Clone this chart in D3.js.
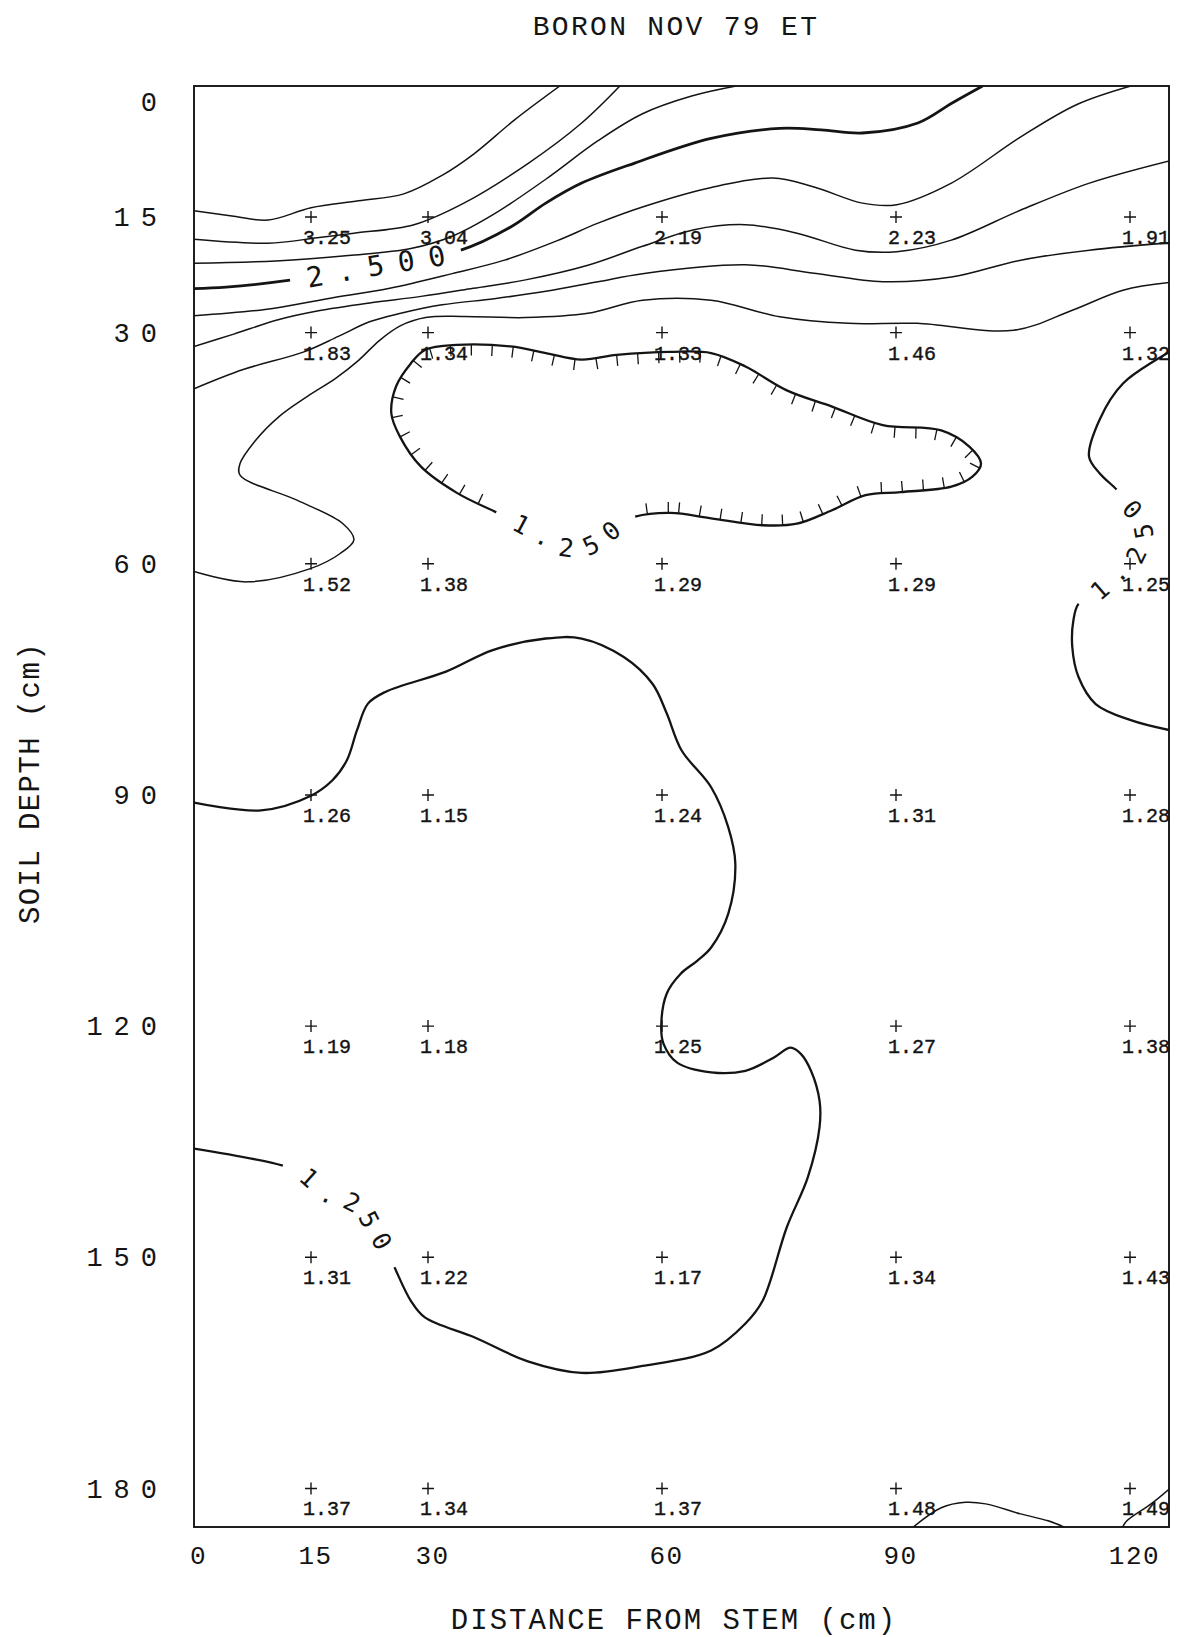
<!DOCTYPE html>
<html>
<head>
<meta charset="utf-8">
<title>BORON NOV 79 ET</title>
<script src="https://cdn.jsdelivr.net/npm/d3@7"></script>
<style>
  html, body { margin: 0; padding: 0; background: #fff; }
  svg { display: block; }
</style>
</head>
<body>
<svg id="chart" width="1181" height="1637"></svg>
<script>
// Sampling positions (cm) and measured boron values, one row per depth
const distances = [15, 30, 60, 90, 120];
const depths = [15, 30, 60, 90, 120, 150, 180];
const boronByDepth = [
  [3.25, 3.04, 2.19, 2.23, 1.91],
  [1.83, 1.34, 1.33, 1.46, 1.32],
  [1.52, 1.38, 1.29, 1.29, 1.25],
  [1.26, 1.15, 1.24, 1.31, 1.28],
  [1.19, 1.18, 1.25, 1.27, 1.38],
  [1.31, 1.22, 1.17, 1.34, 1.43],
  [1.37, 1.34, 1.37, 1.48, 1.49]
];

// Axis ticks and plotted extent (distance from stem, soil depth)
const xTicks = [0, 15, 30, 60, 90, 120];
const yTicks = [0, 15, 30, 60, 90, 120, 150, 180];
const distanceExtent = [0, 125];
const depthExtent = [-2, 185];

// Iso-lines, vertices as [distance cm, depth cm]
const iso325 = [[0,14.2],[5.1,14.9],[9.5,15.4],[15.0,13.8],[21.1,12.9],[26.9,12.0],[31.8,9.6],[35.9,6.8],[41.1,2.4],[46.9,-2]];
const iso300 = [[0,17.9],[9.5,18.4],[15.8,17.7],[20.5,17.1],[28.2,16.0],[34.6,13.2],[42.9,8.0],[49.7,2.8],[54.6,-2]];
const iso275 = [[0,21.0],[10.5,20.7],[19.8,20.0],[27.8,19.1],[33.1,17.5],[38.5,14.6],[45.1,10.1],[51.8,5.1],[57.5,1.6],[63.8,-0.7],[69.5,-2]];
const iso250 = [[0,24.3],[4.1,24.1],[12.3,23.2],[23.2,21.3],[34.2,19.3],[40.6,16.3],[45.1,13.2],[49.7,10.6],[56.5,8.0],[66.3,4.8],[75.1,3.5],[80.4,3.7],[85.7,4.1],[92.8,2.8],[97.2,0.2],[101.1,-2]];
const iso225 = [[0,27.8],[9.1,27.0],[17.1,25.6],[25.1,24.25],[33.1,22.35],[39.8,20.6],[46.5,18.1],[51.8,15.8],[57.5,13.7],[66.2,11.2],[74.2,9.95],[79.5,11.1],[85.7,13.2],[90.1,13.4],[97.1,10.6],[106.0,4.6],[113.2,0.4],[120.1,-2]];
const iso200 = [[0,31.8],[5.1,30.2],[10.9,28.3],[15.8,27.2],[22.5,26.15],[29.1,25.3],[35.8,24.25],[42.5,23.16],[50.5,21.26],[57.5,18.8],[64.1,16.65],[70.7,16.0],[77.3,17.1],[84.8,19.3],[90.1,19.5],[97.1,18.0],[106.0,14.1],[114.8,10.6],[125.1,7.7]];
const iso175 = [[0,37.3],[6.3,34.8],[14.1,32.5],[18.5,30.5],[22.5,28.6],[26.5,27.5],[31.8,26.4],[38.5,25.6],[45.1,24.65],[51.8,23.4],[57.5,22.35],[70.7,21.2],[79.5,22.3],[88.3,23.4],[97.1,22.8],[106.0,20.6],[114.8,19.3],[125.1,18.35]];
const iso150 = [[125.1,23.5],[119.1,24.5],[112.6,27.1],[105.1,29.7],[92.7,28.8],[83.9,28.8],[75.1,27.95],[66.3,25.8],[57.5,25.8],[50.5,27.5],[42.5,28.05],[34.5,27.9],[29.7,28.05],[26.5,29.1],[23.8,31.0],[21.1,33.6],[18.2,35.9],[14.5,38.3],[10.9,40.9],[7.8,44.1],[5.9,47.0],[5.9,48.5],[13.2,51.75],[19.1,54.8],[20.5,56.9],[18.7,58.7],[15.0,60.6],[6.8,62.35],[0,61.0]];
// closed low between 30 and 55 cm depth
const iso125Low = [[56.5,53.9],[61.1,53.4],[66.3,54.1],[72.9,55.0],[77.3,54.8],[81.8,53.05],[86.1,51.1],[90.6,50.7],[97.1,50.0],[99.8,48.7],[100.9,47.0],[99.4,44.8],[95.8,42.7],[88.3,42.0],[81.8,39.6],[76.0,37.5],[70.7,34.4],[66.3,32.65],[61.1,32.5],[54.2,32.9],[49.7,33.5],[45.1,32.65],[40.6,31.8],[33.7,31.6],[29.6,32.25],[27.8,34.0],[25.9,37.0],[25.3,40.5],[26.4,43.5],[29.1,47.4],[33.7,50.8],[38.7,53.3],[41.4,54.6],[45.4,56.7],[48.5,58.0],[51.5,57.3],[54.5,54.9]];
const iso125Mid = [[0,135.9],[11.4,138.1],[14.1,139.2],[17.3,141.8],[21.4,143.5],[23.0,146.1],[24.6,148.9],[25.7,151.3],[27.8,155.65],[29.6,157.8],[36.0,160.4],[42.8,163.5],[49.7,165.0],[57.5,164.1],[66.3,162.1],[70.7,158.6],[72.9,155.65],[76.0,146.1],[78.7,139.6],[80.2,133.1],[80.2,129.7],[79.1,125.8],[77.8,123.6],[76.5,122.8],[74.3,124.1],[70.7,125.8],[66.3,126.0],[61.9,124.7],[60.2,122.3],[59.9,120.1],[60.6,115.8],[62.4,113.2],[64.55,111.5],[66.3,109.8],[68.5,105.4],[69.4,98.9],[68.5,94.2],[66.3,89.0],[62.5,84.2],[60.6,79.4],[58.8,75.6],[55.1,72.1],[49.7,69.7],[45.1,69.7],[38.3,71.2],[32.3,74.0],[24.6,76.6],[22.3,78.15],[20.9,81.6],[19.6,85.5],[17.75,88.1],[15.0,90.1],[8.6,92.0],[0,91.0]];
const iso125Edge = [[125.1,81.6],[120.1,80.3],[115.6,78.2],[113.4,74.7],[112.6,70.8],[112.75,67.3],[113.4,65.2],[116.1,63.4],[118.8,60.8],[121.0,58.4],[121.6,55.0],[119.1,51.5],[118.3,50.4],[116.1,48.25],[114.75,46.1],[116.1,41.3],[119.1,36.6],[125.1,32.5]];
const iso150Bump = [[92.1,185.1],[95.8,182.5],[98.9,181.8],[101.5,182.0],[105.95,183.3],[109.5,184.2],[111.8,185.1]];
const iso150Corner = [[119.0,185.1],[119.6,184.2],[122.7,182.0],[125.1,180.0]];

// level, vertices, and which vertex span carries the level label
const isolines = [
  { level: 3.25, points: iso325 },
  { level: 3.00, points: iso300 },
  { level: 2.75, points: iso275 },
  { level: 2.50, points: iso250, label: [2, 4] },
  { level: 2.25, points: iso225 },
  { level: 2.00, points: iso200 },
  { level: 1.75, points: iso175 },
  { level: 1.50, points: iso150 },
  { level: 1.25, points: iso125Low, closed: true, low: true, label: [31, 0] },
  { level: 1.25, points: iso125Mid, label: [1, 7] },
  { level: 1.25, points: iso125Edge, label: [6, 12] },
  { level: 1.50, points: iso150Bump },
  { level: 1.50, points: iso150Corner }
];

const svg = d3.select('#chart');
const x = d3.scaleLinear().domain(distanceExtent).range([194, 1169]);
const y = d3.scaleLinear().domain(depthExtent).range([86, 1527]);

const mono = '"Liberation Mono", "DejaVu Sans Mono", monospace';
const ink = '#141414';

// title
svg.append('text')
  .attr('x', 676).attr('y', 35)
  .attr('text-anchor', 'middle')
  .style('font-family', mono).style('font-size', '28px').style('letter-spacing', '2.3px')
  .attr('fill', ink)
  .text('BORON NOV 79 ET');

// clip region = plot frame
svg.append('defs').append('clipPath').attr('id', 'plotClip')
  .append('rect')
  .attr('x', x(distanceExtent[0])).attr('y', y(depthExtent[0]))
  .attr('width', x(distanceExtent[1]) - x(distanceExtent[0]))
  .attr('height', y(depthExtent[1]) - y(depthExtent[0]));

const gIso = svg.append('g').attr('clip-path', 'url(#plotClip)');
const gIsoLabels = svg.append('g');

const openLine = d3.line().x(d => x(d[0])).y(d => y(d[1])).curve(d3.curveCatmullRom.alpha(0.5));
const closedLine = d3.line().x(d => x(d[0])).y(d => y(d[1])).curve(d3.curveCatmullRomClosed.alpha(0.5));
const levelFmt = d3.format('.3f');

function strokeFor(level) {
  if (level === 2.5) return 2.8;
  if (level === 1.25) return 2.3;
  return 1.5;
}

isolines.forEach((iso, k) => {
  const id = 'iso' + k;
  const path = gIso.append('path')
    .attr('id', id)
    .attr('d', (iso.closed ? closedLine : openLine)(iso.points))
    .attr('fill', 'none')
    .attr('stroke', ink)
    .attr('stroke-width', strokeFor(iso.level))
    .attr('stroke-linejoin', 'round');

  const node = path.node();
  const total = node.getTotalLength();
  const samples = [];
  for (let l = 0; l <= total; l += 0.5) {
    const p = node.getPointAtLength(l);
    samples.push([l, p.x, p.y]);
  }
  const lengthAt = v => {
    const px = x(v[0]), py = y(v[1]);
    let best = 0, bd = Infinity;
    for (const s of samples) {
      const d = (s[1] - px) ** 2 + (s[2] - py) ** 2;
      if (d < bd) { bd = d; best = s[0]; }
    }
    return best;
  };

  let gapA = null, gapB = null;
  if (iso.label) {
    gapA = lengthAt(iso.points[iso.label[0]]);
    gapB = lengthAt(iso.points[iso.label[1]]);
    path.attr('stroke-dasharray', `${gapA} ${gapB - gapA} ${total + 10}`);

    const big = iso.level === 2.5;
    gIsoLabels.append('text')
      .attr('dy', '0.36em')
      .style('font-family', '"DejaVu Sans Mono", monospace')
      .style('font-size', big ? '28px' : '25px')
      .style('letter-spacing', big ? '14px' : '10px')
      .attr('fill', ink)
      .append('textPath')
      .attr('href', '#' + id)
      .attr('startOffset', (gapA + gapB) / 2 + (big ? 7 : 5))
      .attr('text-anchor', 'middle')
      .text(levelFmt(iso.level));
  }

  // hachures on the inner side of a closed low
  if (iso.low) {
    const poly = samples.map(s => [s[1], s[2]]);
    for (let l = 8; l < total; l += 21) {
      if (gapA !== null && l > gapA - 4 && l < gapB + 4) continue;
      const p = node.getPointAtLength(l);
      const p0 = node.getPointAtLength(Math.max(0, l - 1));
      const p1 = node.getPointAtLength(Math.min(total, l + 1));
      const dx = p1.x - p0.x, dy = p1.y - p0.y, n = Math.hypot(dx, dy) || 1;
      let nx = -dy / n, ny = dx / n;
      if (!d3.polygonContains(poly, [p.x + nx * 4, p.y + ny * 4])) { nx = -nx; ny = -ny; }
      gIso.append('line')
        .attr('x1', p.x).attr('y1', p.y)
        .attr('x2', p.x + nx * 11).attr('y2', p.y + ny * 11)
        .attr('stroke', ink).attr('stroke-width', 1.3);
    }
  }
});

// plot frame
svg.append('rect')
  .attr('x', x(distanceExtent[0])).attr('y', y(depthExtent[0]))
  .attr('width', x(distanceExtent[1]) - x(distanceExtent[0]))
  .attr('height', y(depthExtent[1]) - y(depthExtent[0]))
  .attr('fill', 'none').attr('stroke', ink).attr('stroke-width', 1.9);

// sample markers and values
const samplesG = svg.append('g');
depths.forEach((dep, r) => {
  distances.forEach((dist, c) => {
    const px = x(dist), py = y(dep);
    samplesG.append('path')
      .attr('d', `M${px - 6},${py}H${px + 6}M${px},${py - 6}V${py + 6}`)
      .attr('stroke', ink).attr('stroke-width', 1.4).attr('fill', 'none');
    samplesG.append('text')
      .attr('x', px - 8).attr('y', py + 27)
      .style('font-family', mono).style('font-size', '20px')
      .attr('fill', ink).attr('stroke', ink).attr('stroke-width', 0.4)
      .text(d3.format('.2f')(boronByDepth[r][c]));
  });
});

// axes (labels only, the frame carries the lines)
const xAxis = svg.append('g')
  .attr('transform', `translate(0,${y(depthExtent[1])})`)
  .call(d3.axisBottom(x).tickValues(xTicks).tickSize(0).tickPadding(19).tickFormat(d3.format('d')));
xAxis.select('.domain').remove();
xAxis.selectAll('text')
  .attr('dx', 4)
  .style('font-family', mono).style('font-size', '26px').style('letter-spacing', '1.5px')
  .attr('fill', ink);

const yAxis = svg.append('g')
  .attr('transform', `translate(${x(distanceExtent[0])},0)`)
  .call(d3.axisLeft(y).tickValues(yTicks).tickSize(0).tickPadding(26).tickFormat(d3.format('d')));
yAxis.select('.domain').remove();
yAxis.selectAll('text')
  .style('font-family', mono).style('font-size', '27px').style('letter-spacing', '11px')
  .attr('fill', ink);

// axis titles
svg.append('text')
  .attr('x', 674).attr('y', 1629)
  .attr('text-anchor', 'middle')
  .style('font-family', mono).style('font-size', '29px').style('letter-spacing', '2px')
  .attr('fill', ink)
  .text('DISTANCE FROM STEM (cm)');

svg.append('text')
  .attr('transform', 'translate(39,783) rotate(-90)')
  .attr('text-anchor', 'middle')
  .style('font-family', mono).style('font-size', '29px').style('letter-spacing', '1.4px')
  .attr('fill', ink)
  .text('SOIL DEPTH (cm)');
</script>
</body>
</html>
